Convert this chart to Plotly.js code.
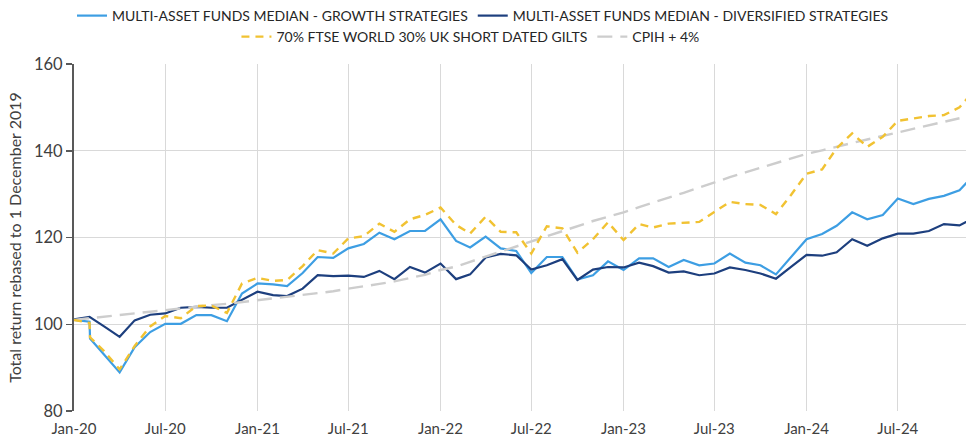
<!DOCTYPE html>
<html>
<head>
<meta charset="utf-8">
<script src="https://cdn.plot.ly/plotly-3.0.1.min.js"></script>
<style>
html,body{margin:0;padding:0;background:#fff;}
#chart{width:966px;height:437px;}
</style>
</head>
<body>
<div id="chart"></div>
<script>
// Month dates (the second February entry carries the sharp intra-month drop of early 2020)
const dates = [
  "2020-01-01","2020-02-01","2020-02-02","2020-03-01","2020-04-01","2020-05-01","2020-06-01","2020-07-01","2020-08-01","2020-09-01","2020-10-01","2020-11-01","2020-12-01",
  "2021-01-01","2021-02-01","2021-03-01","2021-04-01","2021-05-01","2021-06-01","2021-07-01","2021-08-01","2021-09-01","2021-10-01","2021-11-01","2021-12-01",
  "2022-01-01","2022-02-01","2022-03-01","2022-04-01","2022-05-01","2022-06-01","2022-07-01","2022-08-01","2022-09-01","2022-10-01","2022-11-01","2022-12-01",
  "2023-01-01","2023-02-01","2023-03-01","2023-04-01","2023-05-01","2023-06-01","2023-07-01","2023-08-01","2023-09-01","2023-10-01","2023-11-01","2023-12-01",
  "2024-01-01","2024-02-01","2024-03-01","2024-04-01","2024-05-01","2024-06-01","2024-07-01","2024-08-01","2024-09-01","2024-10-01","2024-11-01","2024-12-01"
];

const growth = [
  101.0,100.6,96.7,92.9,88.9,94.7,98.2,100.1,100.1,102.1,102.1,100.7,107.1,
  109.4,109.2,108.8,111.8,115.5,115.3,117.5,118.5,121.1,119.6,121.5,121.5,
  124.2,119.2,117.7,120.2,117.5,116.9,111.8,115.5,115.5,110.3,111.3,114.5,
  112.5,115.2,115.2,113.2,114.8,113.6,114.0,116.3,114.2,113.6,111.5,115.5,
  119.6,120.8,122.7,125.8,124.2,125.2,129.0,127.7,128.9,129.6,130.9,134.5
];

const diversified = [
  101.1,101.7,null,99.5,97.1,100.9,102.2,102.5,103.8,104.0,103.8,103.8,105.7,
  107.5,106.7,106.5,108.2,111.3,111.1,111.2,110.9,112.3,110.4,113.2,111.9,
  114.0,110.4,111.5,115.4,116.2,115.9,112.6,113.6,115.0,110.2,112.6,113.2,
  113.1,114.2,113.4,111.9,112.2,111.3,111.7,113.1,112.5,111.7,110.5,113.2,
  116.0,115.8,116.6,119.6,118.1,119.8,120.9,120.9,121.5,123.1,122.8,124.6
];

const ftseGilts = [
  101.0,100.3,97.0,93.8,89.6,95.0,99.5,101.9,101.4,104.2,104.3,102.6,109.4,
  110.7,110.0,110.2,113.4,117.1,116.3,119.8,120.3,123.2,121.3,124.2,125.2,
  126.9,122.9,120.9,124.8,121.3,121.2,116.3,122.6,122.1,116.5,119.6,123.5,
  119.4,123.1,122.3,123.2,123.4,123.6,125.9,128.2,127.7,127.5,125.4,129.8,
  134.7,135.7,140.6,144.0,140.9,143.2,146.9,147.5,148.0,148.2,150.0,154.0
];

const cpihPlus4 = [
  101.0,101.4,null,101.7,102.1,102.5,102.8,103.2,103.6,104.0,104.4,104.7,105.1,
  105.5,105.9,106.3,106.7,107.1,107.6,108.2,108.7,109.3,109.9,110.6,111.4,
  112.5,113.3,114.4,115.6,116.8,118.0,119.2,120.4,121.5,122.7,123.8,124.8,
  125.8,127.0,128.1,129.2,130.3,131.5,132.8,133.9,135.0,136.1,137.1,138.2,
  139.3,140.1,141.0,141.8,142.6,143.4,144.2,145.0,145.8,146.7,147.5,null
];

const seriesNames = [
  "MULTI-ASSET FUNDS MEDIAN - GROWTH STRATEGIES",
  "MULTI-ASSET FUNDS MEDIAN - DIVERSIFIED STRATEGIES",
  "70% FTSE WORLD 30% UK SHORT DATED GILTS",
  "CPIH + 4%"
];
const yTicks = [80, 100, 120, 140, 160];
const yTitle = "Total return rebased to 1 December 2019";

const FONT = "Lato, 'Open Sans', 'Liberation Sans', sans-serif";

const traces = [
  {x: dates, y: growth, name: seriesNames[0], type: "scatter", mode: "lines", connectgaps: true,
   line: {color: "#3d9ee3", width: 2.2}, legend: "legend"},
  {x: dates, y: diversified, name: seriesNames[1], type: "scatter", mode: "lines", connectgaps: true,
   line: {color: "#1d3f7e", width: 2.2}, legend: "legend"},
  {x: dates, y: cpihPlus4, name: seriesNames[3], type: "scatter", mode: "lines", connectgaps: true,
   line: {color: "#cdcdcd", width: 2.4, dash: "15px,8px"}, legend: "legend2"},
  {x: dates, y: ftseGilts, name: seriesNames[2], type: "scatter", mode: "lines", connectgaps: true,
   line: {color: "#f1c232", width: 2.4, dash: "8px,6px"}, legend: "legend2"}
];

const layout = {
  width: 966, height: 437,
  margin: {l: 74, r: 0, t: 64, b: 26},
  paper_bgcolor: "#ffffff", plot_bgcolor: "#ffffff",
  font: {family: FONT, size: 15, color: "#404040"},
  showlegend: true,
  legend: {orientation: "h", x: 0.5, xanchor: "center", xref: "container", y: 1, yref: "container", yanchor: "top",
           font: {family: FONT, size: 14, color: "#262626"}, itemwidth: 30, traceorder: "normal", bgcolor: "rgba(0,0,0,0)"},
  legend2: {orientation: "h", x: 0.487, xanchor: "center", xref: "container", y: 0.952, yref: "container", yanchor: "top",
           font: {family: FONT, size: 14, color: "#262626"}, itemwidth: 30, traceorder: "reversed", bgcolor: "rgba(0,0,0,0)"},
  xaxis: {
    type: "date", range: ["2020-01-01", "2024-11-14"],
    tick0: "2020-01-01", dtick: "M6", tickformat: "%b-%y",
    showgrid: true, gridcolor: "#d9d9d9", gridwidth: 1,
    showline: false, zeroline: false, ticks: "", ticklabelstandoff: 7,
    tickfont: {family: FONT, size: 15, color: "#404040"}
  },
  yaxis: {
    range: [80, 160], tickvals: yTicks, ticktext: yTicks.map(String),
    showgrid: true, gridcolor: "#d9d9d9", gridwidth: 1,
    showline: true, linecolor: "#595959", linewidth: 2,
    ticks: "outside", ticklen: 6, tickcolor: "#595959", tickwidth: 1.5,
    zeroline: false,
    tickfont: {family: FONT, size: 16.5, color: "#404040"},
    title: {text: yTitle, font: {family: FONT, size: 16, color: "#404040"}, standoff: 8}
  }
};

Plotly.newPlot("chart", traces, layout, {displayModeBar: false, staticPlot: true});
</script>
</body>
</html>
